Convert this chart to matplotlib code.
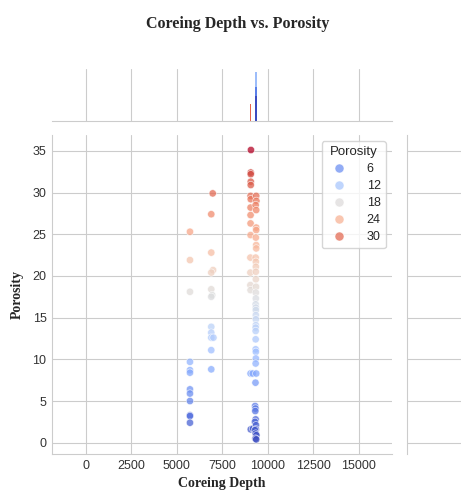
import matplotlib
matplotlib.use("Agg")
import matplotlib.pyplot as plt
import seaborn as sns
from matplotlib.lines import Line2D
from matplotlib.colors import Normalize

sns.set_style("whitegrid")
plt.rcParams["font.family"] = ["Liberation Sans", "DejaVu Sans"]

# core samples: depth (ft) and porosity (%)
depth_a = [5730] * 12
poro_a = [25.3, 21.9, 18.1, 9.7, 8.7, 8.4, 6.4, 5.9, 5.0, 3.3, 3.2, 2.4]

depth_b = [6980, 6900, 6900, 7000, 6900, 6900, 6950, 6900, 6900, 6900, 6900, 7020, 6900, 6900]
poro_b = [29.9, 27.4, 22.8, 20.7, 20.4, 18.4, 17.7, 17.5, 13.9, 13.2, 12.6, 12.6, 11.1, 8.8]

depth_c = [9080, 9070, 9070, 9070, 9070, 9060, 9070, 9060, 9060, 9060, 9060, 9050,
           9050, 9050, 9060, 9060, 9180, 9070, 9200]
poro_c = [35.1, 32.4, 32.2, 31.3, 30.9, 29.6, 29.2, 28.2, 27.3, 26.3, 24.9, 22.2,
          20.4, 18.9, 18.3, 8.3, 8.3, 1.6, 1.7]

depth_d = [9370, 9380, 9340, 9370, 9370, 9370, 9350, 9370, 9370, 9340, 9350, 9350,
           9350, 9350, 9360, 9350, 9350, 9340, 9350, 9350, 9350, 9350, 9350, 9340,
           9340, 9340, 9340, 9350, 9350, 9340, 9370, 9330, 9310, 9330, 9320, 9340,
           9300, 9360, 9350, 9300, 9340, 9380, 9330, 9370]
poro_d = [29.6, 29.0, 28.5, 27.9, 25.8, 25.5, 24.6, 23.7, 23.3, 22.2, 21.7, 21.1,
          20.5, 19.6, 18.7, 18.0, 17.3, 16.6, 16.2, 15.9, 15.3, 14.8, 14.1, 13.8,
          13.4, 12.4, 11.2, 10.9, 10.1, 9.5, 8.3, 7.2, 4.4, 4.1, 3.8, 2.8,
          2.5, 2.1, 1.6, 1.5, 1.1, 0.9, 0.5, 0.4]

depth = depth_a + depth_b + depth_c + depth_d
porosity = poro_a + poro_b + poro_c + poro_d

legend_values = [6, 12, 18, 24, 30]

# marginal density spikes along depth (position, height, colour)
spike_x = [9060, 9355, 9345, 9350]
spike_h = [0.33, 0.94, 0.66, 0.48]
spike_c = ["#e8654d", "#9dbdfa", "#5b7fe8", "#3b4cc0"]

xticks = [0, 2500, 5000, 7500, 10000, 12500, 15000]
yticks = [0, 5, 10, 15, 20, 25, 30, 35]

cmap = plt.get_cmap("coolwarm")
norm = Normalize(min(porosity), max(porosity))
alpha = 0.75

fig = plt.figure(figsize=(4.61, 4.90), dpi=100)
ax = fig.add_axes([0.1128, 0.0735, 0.7375, 0.651])
ax_top = fig.add_axes([0.1128, 0.753, 0.7375, 0.106], sharex=ax)
ax_right = fig.add_axes([0.883, 0.0735, 0.1475, 0.651], sharey=ax)

ax.scatter(depth, porosity, c=[cmap(norm(p)) for p in porosity], s=28,
           alpha=alpha, edgecolors="white", linewidths=0.5, zorder=3)

ax.set_xlim(-1850, 16830)
ax.set_ylim(-1.35, 36.9)
ax.set_xticks(xticks)
ax.set_yticks(yticks)
ax.tick_params(labelsize=9, colors="#333333", length=0, pad=4)
for s in ["top", "right"]:
    ax.spines[s].set_visible(False)
ax.set_xlabel("Coreing Depth", family="Liberation Serif", fontweight="bold",
              fontsize=10, labelpad=4)
ax.set_ylabel("Porosity", family="Liberation Serif", fontweight="bold",
              fontsize=10, labelpad=6)

handles = [Line2D([], [], marker="o", linestyle="", markersize=6.5,
                  markerfacecolor=cmap(norm(v)), markeredgecolor="white",
                  markeredgewidth=0.5, alpha=alpha) for v in legend_values]
leg = ax.legend(handles, [str(v) for v in legend_values], title="Porosity",
                loc="upper right", fontsize=9, title_fontsize=9.5,
                frameon=True, handletextpad=1.2, labelspacing=0.4,
                borderaxespad=0.5, borderpad=0.4)
leg.get_frame().set_edgecolor("#cccccc")

ax_top.bar(spike_x, spike_h, width=90, color=spike_c, linewidth=0, zorder=3)
ax_top.set_ylim(0, 1)
ax_top.grid(axis="y", visible=False)
ax_top.tick_params(labelbottom=False, labelleft=False, length=0)
for s in ["top", "right", "left"]:
    ax_top.spines[s].set_visible(False)

ax_right.set_xlim(0, 1)
ax_right.grid(axis="x", visible=False)
ax_right.tick_params(labelbottom=False, labelleft=False, length=0)
for s in ["top", "right", "bottom"]:
    ax_right.spines[s].set_visible(False)

fig.suptitle("Coreing Depth vs. Porosity", family="Liberation Serif",
             fontweight="bold", fontsize=11.5, x=0.515, y=0.967)

fig.savefig("out.png", dpi=100)
